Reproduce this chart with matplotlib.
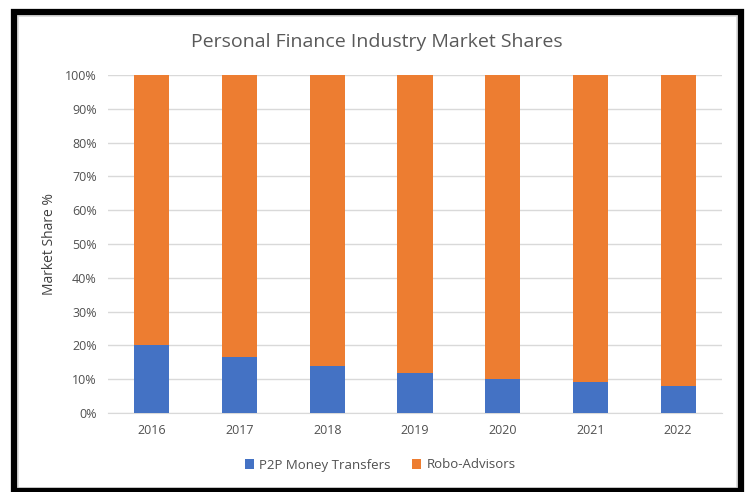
import numpy as np
import matplotlib.pyplot as plt
from matplotlib.patches import Rectangle
from matplotlib.ticker import PercentFormatter

years = ['2016', '2017', '2018', '2019', '2020', '2021', '2022']
p2p = [20.2, 16.6, 13.8, 11.9, 10.0, 9.1, 8.1]
robo = [100 - v for v in p2p]

blue = '#4472C4'
orange = '#ED7D31'
grey_text = '#595959'

plt.rcParams['font.family'] = ['Open Sans', 'DejaVu Sans']

W, H = 750, 492
fig = plt.figure(figsize=(W / 100, H / 100), dpi=100)
ax = fig.add_axes([108 / W, 1 - 413 / H, (722 - 108) / W, (413 - 75) / H])

x = np.arange(len(years))
ax.bar(x, p2p, width=0.4, color=blue, label='P2P Money Transfers', zorder=3)
ax.bar(x, robo, width=0.4, bottom=p2p, color=orange, label='Robo-Advisors', zorder=3)

ax.set_xlim(-0.5, len(years) - 0.5)
ax.set_ylim(0, 100)
ax.set_yticks(np.arange(0, 101, 10))
ax.yaxis.set_major_formatter(PercentFormatter(decimals=0))
ax.set_xticks(x)
ax.set_xticklabels(years)
ax.grid(axis='y', color='#D9D9D9', linewidth=1, zorder=0)
for s in ['top', 'right', 'left']:
    ax.spines[s].set_visible(False)
ax.spines['bottom'].set_color('#D9D9D9')
ax.tick_params(length=0, labelsize=9, colors='#505050', pad=8)
ax.set_ylabel('Market Share %', fontsize=10, color='#404040', labelpad=6)

fig.text(377 / W, 1 - 42 / H, 'Personal Finance Industry Market Shares',
         ha='center', va='center', fontsize=14, color=grey_text)

fig.legend(loc='center', bbox_to_anchor=(380 / W, 1 - 465 / H), ncol=2,
           frameon=False, fontsize=9.5, handlelength=0.7, handleheight=0.7,
           columnspacing=1.6, handletextpad=0.4, labelcolor='#505050')

# screenshot frame
fig.patches.append(Rectangle((18 / W, 1 - 488 / H), (737 - 18) / W, (488 - 16) / H,
                             transform=fig.transFigure, fill=False,
                             edgecolor='#D9D9D9', linewidth=1.2))
fig.patches.append(Rectangle((14 / W, 1 - 491 / H), (741 - 14) / W, (491 - 12) / H,
                             transform=fig.transFigure, fill=False,
                             edgecolor='black', linewidth=4.5))

fig.savefig('out.png', dpi=100)
